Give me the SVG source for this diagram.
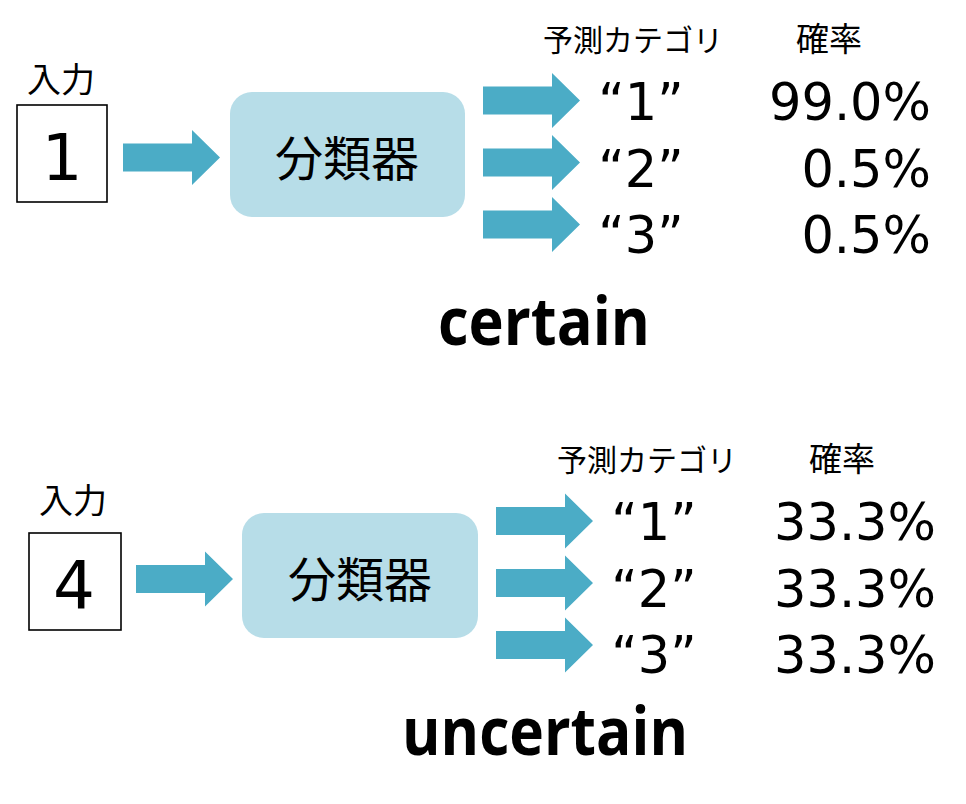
<svg xmlns="http://www.w3.org/2000/svg" xmlns:xlink="http://www.w3.org/1999/xlink" width="966" height="804" viewBox="0 0 966 804">
<style>
.jp{font-family:"Noto Sans CJK JP","Noto Sans",sans-serif;fill:#000}
.num{font-family:"DejaVu Sans","Noto Sans",sans-serif;fill:#000}
.bold{font-family:"Open Sans","Noto Sans",sans-serif;font-weight:bold;fill:#000}
.box{fill:#fff;stroke:#000;stroke-width:1.6}
.cls{fill:#b7dde8}
.arrow{fill:#4bacc6}
</style>
<defs>
<path id="arr" d="M0,-14 H69 V-27.5 L97,0 L69,27.5 V14 H0 Z"/>
</defs>
<rect width="966" height="804" fill="#fff"/>

<g id="connectors" class="arrow">
<use xlink:href="#arr" href="#arr" x="123" y="157.5"/>
<use xlink:href="#arr" href="#arr" x="483" y="100.5"/>
<use xlink:href="#arr" href="#arr" x="483" y="162.5"/>
<use xlink:href="#arr" href="#arr" x="483" y="224.5"/>
<use xlink:href="#arr" href="#arr" x="136" y="579"/>
<use xlink:href="#arr" href="#arr" x="496" y="521"/>
<use xlink:href="#arr" href="#arr" x="496" y="583"/>
<use xlink:href="#arr" href="#arr" x="496" y="645"/>
</g>

<g id="input1">
<text class="jp" x="61" y="92" font-size="34" text-anchor="middle">入力</text>
<rect class="box" x="17" y="105" width="90" height="97"/>
<text class="num" x="62" y="180" font-size="64" text-anchor="middle">1</text>
</g>
<g id="classifier1">
<rect class="cls" x="230" y="92" width="235" height="125" rx="22"/>
<text class="jp" x="347" y="176" font-size="48" text-anchor="middle">分類器</text>
</g>
<g id="output1">
<text class="jp" x="543" y="51" font-size="30">予測カテゴリ</text>
<text class="jp" x="829" y="51" font-size="33" text-anchor="middle">確率</text>
<text class="num" x="641" y="120" font-size="51" text-anchor="middle">“1”</text>
<text class="num" x="641" y="187" font-size="51" text-anchor="middle">“2”</text>
<text class="num" x="641" y="253" font-size="51" text-anchor="middle">“3”</text>
<text class="num" x="931" y="120" font-size="51" text-anchor="end">99.0%</text>
<text class="num" x="931" y="187" font-size="51" text-anchor="end">0.5%</text>
<text class="num" x="931" y="253" font-size="51" text-anchor="end">0.5%</text>
</g>
<text class="bold" x="438" y="345" font-size="66" textLength="212" lengthAdjust="spacingAndGlyphs">certain</text>

<g id="input2">
<text class="jp" x="73" y="513" font-size="34" text-anchor="middle">入力</text>
<rect class="box" x="29" y="533" width="92" height="97"/>
<text class="num" x="74" y="608" font-size="66" text-anchor="middle">4</text>
</g>
<g id="classifier2">
<rect class="cls" x="242" y="513" width="236" height="125" rx="22"/>
<text class="jp" x="360" y="597" font-size="48" text-anchor="middle">分類器</text>
</g>
<g id="output2">
<text class="jp" x="557" y="471" font-size="30">予測カテゴリ</text>
<text class="jp" x="842" y="471" font-size="33" text-anchor="middle">確率</text>
<text class="num" x="654" y="540" font-size="51" text-anchor="middle">“1”</text>
<text class="num" x="654" y="607" font-size="51" text-anchor="middle">“2”</text>
<text class="num" x="654" y="673" font-size="51" text-anchor="middle">“3”</text>
<text class="num" x="936" y="540" font-size="51" text-anchor="end">33.3%</text>
<text class="num" x="936" y="607" font-size="51" text-anchor="end">33.3%</text>
<text class="num" x="936" y="673" font-size="51" text-anchor="end">33.3%</text>
</g>
<text class="bold" x="402" y="755" font-size="66" textLength="286" lengthAdjust="spacingAndGlyphs">uncertain</text>
</svg>
